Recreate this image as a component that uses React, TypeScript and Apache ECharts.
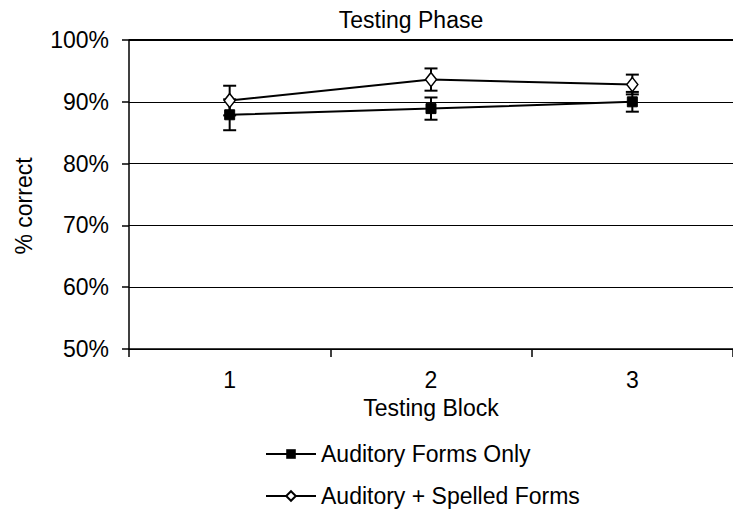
import React, { useEffect, useRef } from "react";
import * as echarts from "echarts";

const categories = ["1", "2", "3"];
const auditoryOnly = [87.9, 88.9, 90.0];
const auditoryOnlyErr = [2.5, 1.8, 1.6];
const auditorySpelled = [90.2, 93.6, 92.8];
const auditorySpelledErr = [2.4, 1.8, 1.6];
const yTicks = [50, 60, 70, 80, 90, 100];
const seriesNames = ["Auditory Forms Only", "Auditory + Spelled Forms"];

const FONT = "Liberation Sans";

function errorSeries(values: number[], errs: number[]) {
  return {
    type: "custom",
    silent: true,
    z: 1,
    renderItem: (params: any, api: any) => {
      const x = api.value(0);
      const lo = api.value(1);
      const hi = api.value(2);
      const p1 = api.coord([x, hi]);
      const p2 = api.coord([x, lo]);
      const w = 6.5;
      const style = { stroke: "#000", lineWidth: 2 };
      return {
        type: "group",
        children: [
          { type: "line", shape: { x1: p1[0], y1: p1[1], x2: p2[0], y2: p2[1] }, style },
          { type: "line", shape: { x1: p1[0] - w, y1: p1[1], x2: p1[0] + w, y2: p1[1] }, style },
          { type: "line", shape: { x1: p2[0] - w, y1: p2[1], x2: p2[0] + w, y2: p2[1] }, style },
        ],
      };
    },
    data: values.map((v, i) => [i, v - errs[i], v + errs[i]]),
  };
}

export default function App() {
  const ref = useRef<HTMLDivElement>(null);
  useEffect(() => {
    const chart = echarts.init(ref.current!, null, { renderer: "svg" });
    chart.setOption({
      animation: false,
      backgroundColor: "#fff",
      textStyle: { fontFamily: FONT, color: "#000" },
      title: {
        text: "Testing Phase",
        left: 406,
        textAlign: "center",
        top: 3,
        textStyle: { fontFamily: FONT, fontSize: 23, fontWeight: "normal", color: "#000" },
      },
      grid: { left: 129, top: 40, width: 610, height: 309 },
      xAxis: {
        type: "category",
        data: categories,
        boundaryGap: true,
        name: "Testing Block",
        nameLocation: "middle",
        nameGap: 47,
        nameTextStyle: { fontFamily: FONT, fontSize: 23, color: "#000" },
        axisLine: { lineStyle: { color: "#000", width: 1.5 } },
        axisTick: { show: true, length: 8, lineStyle: { color: "#000", width: 1.5 } },
        axisLabel: { fontFamily: FONT, fontSize: 23, color: "#000", margin: 19 },
      },
      yAxis: {
        type: "value",
        min: yTicks[0],
        max: yTicks[yTicks.length - 1],
        interval: 10,
        axisLine: { show: true, lineStyle: { color: "#000", width: 1.5 } },
        axisTick: { show: true, length: 7, lineStyle: { color: "#000", width: 1.5 } },
        axisLabel: { fontFamily: FONT, fontSize: 23, color: "#000", margin: 20, formatter: "{value}%" },
        splitLine: { show: true, lineStyle: { color: "#000", width: 1 } },
      },
      graphic: [
        {
          type: "text",
          x: 24,
          y: 206,
          rotation: Math.PI / 2,
          style: {
            text: "% correct",
            fontFamily: FONT,
            fontSize: 23,
            fill: "#000",
            align: "center",
            verticalAlign: "middle",
          },
        },
        {
          type: "line",
          shape: { x1: 129, y1: 40, x2: 733, y2: 40 },
          style: { stroke: "#000", lineWidth: 2 },
        },
      ],
      legend: {
        data: seriesNames,
        orient: "vertical",
        left: 265,
        top: 442,
        padding: 0,
        itemWidth: 50,
        itemHeight: 12,
        itemGap: 18,
        textStyle: { fontFamily: FONT, fontSize: 23, color: "#000", lineHeight: 24 },
      },
      series: [
        errorSeries(auditoryOnly, auditoryOnlyErr),
        errorSeries(auditorySpelled, auditorySpelledErr),
        {
          name: seriesNames[0],
          type: "line",
          data: auditoryOnly,
          z: 3,
          symbol: "rect",
          symbolSize: 10,
          lineStyle: { color: "#000", width: 2 },
          itemStyle: { color: "#000", borderColor: "#000" },
        },
        {
          name: seriesNames[1],
          type: "line",
          data: auditorySpelled,
          z: 4,
          symbol: "diamond",
          symbolSize: [11, 14],
          lineStyle: { color: "#000", width: 2 },
          itemStyle: { color: "#fff", borderColor: "#000", borderWidth: 1.5 },
        },
      ],
    });
    return () => chart.dispose();
  }, []);
  return (
    <div
      ref={ref}
      style={{ position: "fixed", left: 0, top: 0, width: 733, height: 519, background: "#fff" }}
    />
  );
}
